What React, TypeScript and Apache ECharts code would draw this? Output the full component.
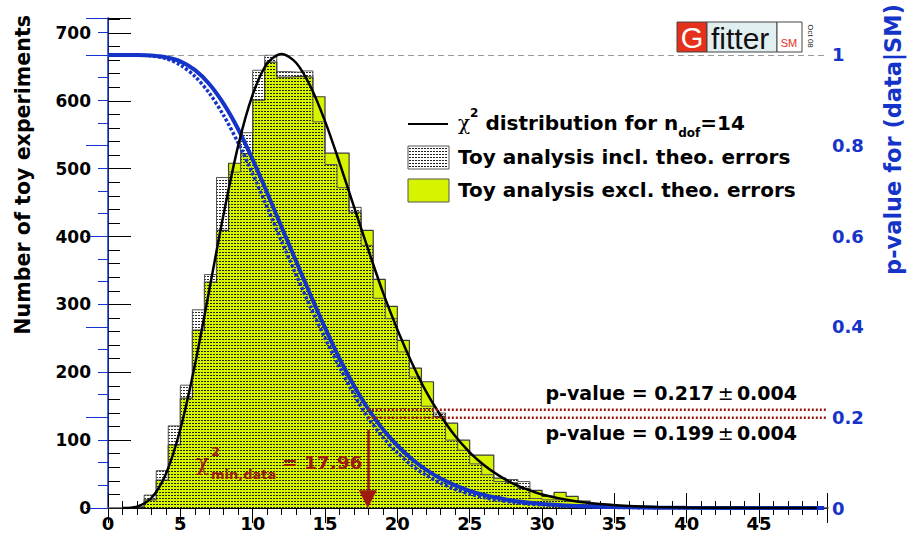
import React, { useEffect, useRef } from "react";
import * as echarts from "echarts";

// Histogram binning: 60 bins over [0, 50]
const BIN_WIDTH = 50 / 60;
const X_MAX = 49.7;
const COUNT_MAX = 722;
const COUNTS_AT_P1 = 667.5;

// Toy experiments per bin (incl. / excl. theoretical errors)
const toysInclTheo = [
  0, 0, 2, 19, 55, 121, 181, 292, 344, 487, 495, 553, 645, 667, 643, 642, 644, 569, 506, 472,
  443, 387, 309, 279, 230, 193, 150, 140, 100, 85, 65, 49, 39, 42, 39, 14, 12, 12, 10, 8,
  6, 4, 3, 2, 1, 1, 0, 0, 1, 0, 0, 0, 0, 0, 0, 0, 0, 0, 0, 0,
];
const toysExclTheo = [
  0, 0, 1, 12, 41, 93, 162, 262, 333, 409, 508, 522, 601, 657, 635, 636, 635, 606, 523, 523,
  436, 409, 337, 297, 247, 206, 186, 135, 125, 100, 78, 78, 44, 37, 29, 26, 17, 23, 17, 10,
  6, 5, 3, 2, 1, 1, 1, 0, 0, 0, 0, 0, 0, 0, 0, 0, 0, 0, 0, 0,
];

// Expected chi2 distribution (n_dof = 14), in toys per bin
const chi2X = [1, 2, 3, 4, 5, 6, 7, 8, 9, 10, 11, 12, 13, 14, 15, 16, 17, 18, 19, 20, 21, 22, 23, 24, 25, 26, 27, 28, 29, 30, 32, 34, 36, 38, 40, 44, 49];
const chi2Y = [0.05, 2.1, 14.7, 50, 116, 210, 321, 434, 534, 609, 655, 669, 656, 621, 570, 509, 444, 380, 318, 263, 214, 171, 136, 106, 82, 63, 48, 36, 27, 20, 11, 5.8, 3, 1.5, 0.8, 0.2, 0.03];

// p-value curves vs chi2_min
const pX = [0, 1, 2, 3, 4, 5, 6, 7, 8, 9, 10, 11, 12, 13, 14, 15, 16, 17, 18, 19, 20, 21, 22, 23, 24, 25, 26, 27, 28, 29, 30, 32, 34, 36, 38, 40, 45, 49.5];
const pExclTheo = [1, 1, 1, 0.999, 0.995, 0.986, 0.967, 0.936, 0.892, 0.836, 0.769, 0.696, 0.62, 0.545, 0.47, 0.398, 0.33, 0.27, 0.218, 0.174, 0.138, 0.108, 0.084, 0.065, 0.05, 0.038, 0.029, 0.022, 0.016, 0.012, 0.009, 0.005, 0.003, 0.0015, 0.0008, 0.0004, 0.0001, 0];
const pInclTheo = [1, 1, 1, 0.998, 0.992, 0.978, 0.953, 0.916, 0.866, 0.806, 0.738, 0.664, 0.589, 0.515, 0.443, 0.375, 0.311, 0.251, 0.198, 0.156, 0.122, 0.094, 0.072, 0.055, 0.041, 0.031, 0.023, 0.017, 0.013, 0.009, 0.007, 0.004, 0.002, 0.001, 0.0005, 0.0002, 0, 0];

const chi2MinData = 17.96;
const pValueExcl = 0.217;
const pValueIncl = 0.199;
const pValueErr = 0.004;

const BOLD = "DejaVu Sans";
const BLUE = "#1433c8";
const DARK_RED = "#9e1b0f";
const YELLOW = "#d6f400";

const dotPattern = {
  symbol: "rect",
  symbolSize: 1,
  color: "rgba(15,15,15,0.9)",
  backgroundColor: "rgba(0,0,0,0)",
  dashArrayX: [2, 1],
  dashArrayY: [1, 2],
  rotation: 0,
};

function histSteps(counts: number[]) {
  const pts = counts.map((c, i) => [i * BIN_WIDTH, c]);
  pts.push([counts.length * BIN_WIDTH, counts[counts.length - 1]]);
  pts.push([counts.length * BIN_WIDTH, 0]);
  return pts;
}

function legendPatternLines() {
  const lines: any[] = [];
  for (let y = 148.5; y < 168; y += 3) {
    lines.push({
      type: "line",
      shape: { x1: 409, y1: y, x2: 448, y2: y },
      style: { stroke: "#222", lineWidth: 1, lineDash: [2, 1] },
      z: 101,
    });
  }
  return lines;
}

export default function App() {
  const ref = useRef<HTMLDivElement>(null);

  useEffect(() => {
    if (!ref.current) return;
    const chart = echarts.init(ref.current, null, { renderer: "svg" });

    const xAxisBase = {
      type: "value",
      min: 0,
      max: X_MAX,
      interval: 5,
      splitLine: { show: false },
      axisLine: { show: true, lineStyle: { color: "#000", width: 1 } },
      axisTick: { show: true, inside: true, length: 15, lineStyle: { color: "#000", width: 1 } },
      minorTick: { show: true, splitNumber: 5, length: 7, lineStyle: { color: "#000", width: 1 } },
    };

    const richMain = { fontFamily: BOLD, fontWeight: "bold", fontSize: 20, color: "#000", lineHeight: 32 };
    const richSup = { fontFamily: BOLD, fontWeight: "bold", fontSize: 12, color: "#000", lineHeight: 18, verticalAlign: "top" };
    const richSub = { fontFamily: BOLD, fontWeight: "bold", fontSize: 12, color: "#000", lineHeight: 14, verticalAlign: "bottom" };
    const richChi = { fontFamily: "DejaVu Serif", fontSize: 20, color: "#000", lineHeight: 32 };

    chart.setOption({
      animation: false,
      backgroundColor: "#fff",
      grid: { left: 108, right: 81, top: 18, bottom: 31, containLabel: false },
      xAxis: [
        {
          ...xAxisBase,
          position: "bottom",
          axisLabel: {
            show: true,
            fontFamily: BOLD,
            fontWeight: "bold",
            fontSize: 18,
            color: "#000",
            margin: 6,
            showMaxLabel: false,
          },
        },
        { ...xAxisBase, position: "top", axisLabel: { show: false } },
      ],
      yAxis: [
        {
          type: "value",
          position: "left",
          min: 0,
          max: COUNT_MAX,
          interval: 100,
          splitLine: { show: false },
          axisLine: { show: true, lineStyle: { color: "#000", width: 1 } },
          axisTick: { show: true, inside: true, length: 23, lineStyle: { color: "#000" } },
          minorTick: { show: true, splitNumber: 5, length: 12, lineStyle: { color: "#000" } },
          axisLabel: {
            fontFamily: BOLD,
            fontWeight: "bold",
            fontSize: 17,
            color: "#000",
            margin: 17,
            showMaxLabel: false,
          },
        },
        {
          type: "value",
          position: "right",
          min: 0,
          max: COUNT_MAX / COUNTS_AT_P1,
          interval: 0.2,
          splitLine: { show: false },
          axisLine: { show: true, lineStyle: { color: BLUE, width: 1.5 } },
          axisTick: { show: true, inside: true, length: 22, lineStyle: { color: BLUE } },
          minorTick: { show: true, splitNumber: 4, length: 10, lineStyle: { color: BLUE } },
          axisLabel: {
            fontFamily: BOLD,
            fontWeight: "bold",
            fontSize: 18,
            color: BLUE,
            margin: 5,
            showMaxLabel: false,
            formatter: (v: number) => String(parseFloat(v.toFixed(2))),
          },
        },
      ],
      series: [
        {
          name: "Toy analysis excl. theo. errors",
          type: "line",
          step: "end",
          data: histSteps(toysExclTheo),
          symbol: "none",
          silent: true,
          lineStyle: { color: "#3c3c3c", width: 1.2 },
          areaStyle: { color: YELLOW, opacity: 1 },
          z: 2,
        },
        {
          name: "Toy analysis incl. theo. errors",
          type: "line",
          step: "end",
          data: histSteps(toysInclTheo),
          symbol: "none",
          silent: true,
          lineStyle: { color: "#555", width: 1, decal: dotPattern },
          itemStyle: { decal: dotPattern },
          areaStyle: { color: "rgba(255,255,255,0)", opacity: 1 },
          z: 3,
        },
        {
          name: "chi2 distribution",
          type: "line",
          data: chi2X.map((x, i) => [x, chi2Y[i]]),
          smooth: 0.3,
          symbol: "none",
          silent: true,
          lineStyle: { color: "#000", width: 2.5 },
          z: 6,
          markLine: {
            silent: true,
            symbol: ["none", "triangle"],
            symbolSize: 18,
            label: { show: false },
            lineStyle: { color: DARK_RED, width: 2.5, type: "solid" },
            data: [[{ coord: [chi2MinData, 115] }, { coord: [chi2MinData, 13] }]],
          },
        },
        {
          name: "p-value excl",
          type: "line",
          yAxisIndex: 1,
          data: pX.map((x, i) => [x, pExclTheo[i]]),
          smooth: 0.3,
          symbol: "none",
          silent: true,
          lineStyle: { color: BLUE, width: 4 },
          z: 5,
          markLine: {
            silent: true,
            symbol: "none",
            label: { show: false },
            lineStyle: { color: "#999", width: 1, type: [6, 4] },
            data: [{ yAxis: 1 }],
          },
        },
        {
          name: "p-value incl",
          type: "line",
          yAxisIndex: 1,
          data: pX.map((x, i) => [x, pInclTheo[i]]),
          smooth: 0.3,
          symbol: "none",
          silent: true,
          lineStyle: { color: BLUE, width: 3.5, type: [3, 2] },
          z: 5,
        },
        {
          name: "p-value excl line",
          type: "line",
          yAxisIndex: 1,
          data: [[chi2MinData, pValueExcl], [X_MAX, pValueExcl]],
          symbol: "none",
          silent: true,
          lineStyle: { color: DARK_RED, width: 2.5, type: [2, 2] },
          z: 7,
        },
        {
          name: "p-value incl line",
          type: "line",
          yAxisIndex: 1,
          data: [[chi2MinData, pValueIncl], [X_MAX, pValueIncl]],
          symbol: "none",
          silent: true,
          lineStyle: { color: DARK_RED, width: 2.5, type: [2, 2] },
          z: 7,
        },
      ],
      graphic: [
        // axis titles
        {
          type: "text",
          x: 23,
          y: 15,
          rotation: Math.PI / 2,
          style: {
            text: "Number of toy experiments",
            fontFamily: BOLD,
            fontWeight: "bold",
            fontSize: 20.6,
            fill: "#000",
            align: "right",
            verticalAlign: "middle",
          },
        },
        {
          type: "text",
          x: 893,
          y: 4,
          rotation: Math.PI / 2,
          style: {
            text: "p-value for (data|SM)",
            fontFamily: BOLD,
            fontWeight: "bold",
            fontSize: 22.5,
            fill: BLUE,
            align: "right",
            verticalAlign: "middle",
          },
        },
        // legend
        {
          type: "line",
          shape: { x1: 408, y1: 124, x2: 448, y2: 124 },
          style: { stroke: "#000", lineWidth: 2 },
          z: 100,
        },
        {
          type: "text",
          x: 458,
          y: 123,
          z: 100,
          style: {
            text: "{chi|χ}{sup|2}{m| distribution for n}{sub|dof}{m|=14}",
            verticalAlign: "middle",
            rich: { chi: richChi, sup: richSup, m: richMain, sub: richSub },
          },
        },
        {
          type: "rect",
          shape: { x: 408, y: 146, width: 41, height: 23 },
          style: { fill: "#fff", stroke: "#555", lineWidth: 1 },
          z: 100,
        },
        ...legendPatternLines(),
        {
          type: "text",
          x: 458,
          y: 157,
          z: 100,
          style: {
            text: "Toy analysis incl. theo. errors",
            fontFamily: BOLD,
            fontWeight: "bold",
            fontSize: 20,
            fill: "#000",
            verticalAlign: "middle",
          },
        },
        {
          type: "rect",
          shape: { x: 408, y: 179, width: 41, height: 23 },
          style: { fill: YELLOW, stroke: "#555", lineWidth: 1 },
          z: 100,
        },
        {
          type: "text",
          x: 458,
          y: 190,
          z: 100,
          style: {
            text: "Toy analysis excl. theo. errors",
            fontFamily: BOLD,
            fontWeight: "bold",
            fontSize: 20,
            fill: "#000",
            verticalAlign: "middle",
          },
        },
        // logo
        {
          type: "rect",
          shape: { x: 677, y: 22, width: 30, height: 30 },
          style: { fill: "#e5301c", stroke: "#444", lineWidth: 1 },
          z: 100,
        },
        {
          type: "text",
          x: 692,
          y: 38,
          z: 101,
          style: {
            text: "G",
            fontFamily: "Liberation Sans",
            fontSize: 29,
            fill: "#fff",
            align: "center",
            verticalAlign: "middle",
          },
        },
        {
          type: "rect",
          shape: { x: 707, y: 22, width: 70, height: 30 },
          style: { fill: "#e2eff1", stroke: "#444", lineWidth: 1 },
          z: 100,
        },
        {
          type: "text",
          x: 711,
          y: 38,
          z: 101,
          style: {
            text: "fitter",
            fontFamily: "Liberation Sans",
            fontSize: 30,
            fill: "#111",
            verticalAlign: "middle",
          },
        },
        {
          type: "rect",
          shape: { x: 777, y: 22, width: 25, height: 30 },
          style: { fill: "#fff", stroke: "#444", lineWidth: 1 },
          z: 100,
        },
        {
          type: "text",
          x: 789,
          y: 43,
          z: 101,
          style: {
            text: "SM",
            fontFamily: "Liberation Sans",
            fontSize: 11,
            fill: "#e5301c",
            align: "center",
            verticalAlign: "middle",
          },
        },
        {
          type: "text",
          x: 810,
          y: 36,
          rotation: -Math.PI / 2,
          z: 101,
          style: {
            text: "Oct 08",
            fontFamily: "Liberation Sans",
            fontSize: 8,
            fill: "#222",
            align: "center",
            verticalAlign: "middle",
          },
        },
        // p-value annotations
        {
          type: "text",
          x: 797,
          y: 393,
          z: 100,
          style: {
            text: `{b|p-value = ${pValueExcl}} {n|±} {b|${pValueErr.toFixed(3)}}`,
            align: "right",
            verticalAlign: "middle",
            rich: {
              b: { fontFamily: BOLD, fontWeight: "bold", fontSize: 19, color: DARK_RED },
              n: { fontFamily: "DejaVu Sans", fontSize: 19, color: DARK_RED },
            },
          },
        },
        {
          type: "text",
          x: 797,
          y: 433,
          z: 100,
          style: {
            text: `{b|p-value = ${pValueIncl}} {n|±} {b|${pValueErr.toFixed(3)}}`,
            align: "right",
            verticalAlign: "middle",
            rich: {
              b: { fontFamily: BOLD, fontWeight: "bold", fontSize: 19, color: DARK_RED },
              n: { fontFamily: "DejaVu Sans", fontSize: 19, color: DARK_RED },
            },
          },
        },
        // chi2 min annotation
        {
          type: "text",
          x: 196,
          y: 462,
          z: 100,
          style: {
            text: "χ",
            fontFamily: "DejaVu Serif",
            fontSize: 22,
            fill: DARK_RED,
            verticalAlign: "middle",
          },
        },
        {
          type: "text",
          x: 211,
          y: 451,
          z: 100,
          style: {
            text: "2",
            fontFamily: BOLD,
            fontWeight: "bold",
            fontSize: 13,
            fill: DARK_RED,
            verticalAlign: "middle",
          },
        },
        {
          type: "text",
          x: 211,
          y: 474,
          z: 100,
          style: {
            text: "min,data",
            fontFamily: BOLD,
            fontWeight: "bold",
            fontSize: 13,
            fill: DARK_RED,
            verticalAlign: "middle",
          },
        },
        {
          type: "text",
          x: 282,
          y: 462,
          z: 100,
          style: {
            text: `= ${chi2MinData}`,
            fontFamily: BOLD,
            fontWeight: "bold",
            fontSize: 18.5,
            fill: DARK_RED,
            verticalAlign: "middle",
          },
        },
      ],
    });

    return () => chart.dispose();
  }, []);

  return (
    <div
      ref={ref}
      style={{ position: "fixed", left: 0, top: 0, width: 908, height: 539, background: "#fff" }}
    />
  );
}
